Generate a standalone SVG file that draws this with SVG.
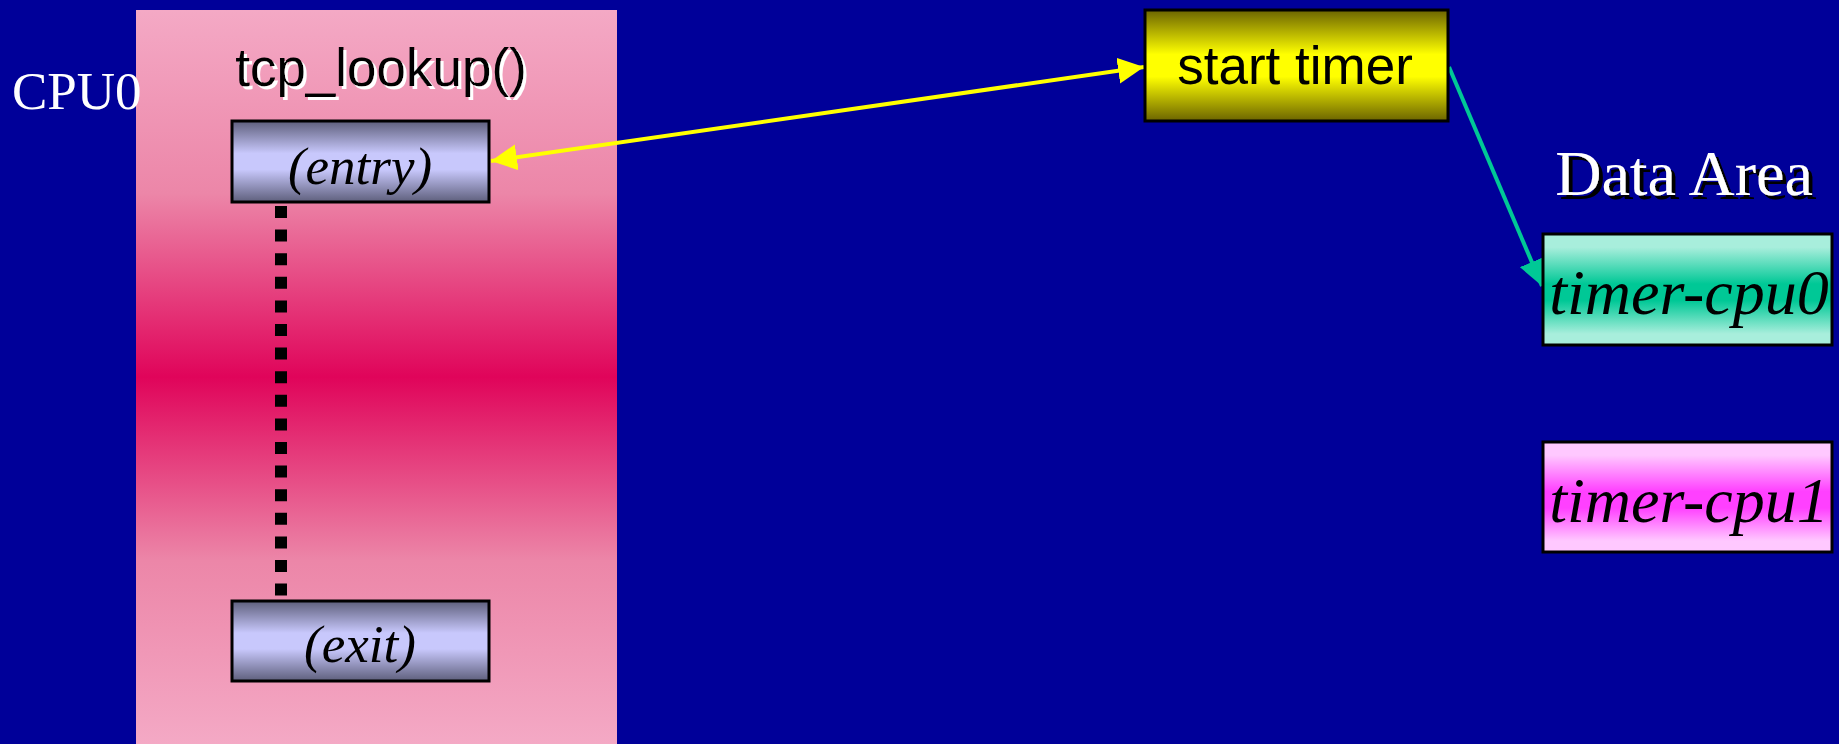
<svg xmlns="http://www.w3.org/2000/svg" width="1839" height="744" viewBox="0 0 1839 744">
<defs>
<style>
.serif{font-family:"Liberation Serif","Times New Roman",serif}
.sans{font-family:"Liberation Sans",Arial,sans-serif}
.box{stroke:#000;stroke-width:3}
.lbl{font-size:53px;text-anchor:middle}
.it{font-style:italic}
</style>
<filter id="shW" x="-5%" y="-20%" width="115%" height="150%">
<feDropShadow dx="3" dy="3" stdDeviation="0" flood-color="#FFFFFF" flood-opacity="1"/>
</filter>
<filter id="shK" x="-5%" y="-20%" width="115%" height="150%">
<feDropShadow dx="4" dy="4" stdDeviation="0" flood-color="#000000" flood-opacity="1"/>
</filter>
<linearGradient id="gPanel" x1="0" y1="0" x2="0" y2="1">
<stop offset="0" stop-color="#F4A9C5"/>
<stop offset="0.25" stop-color="#EC86A8"/>
<stop offset="0.5" stop-color="#E0045A"/>
<stop offset="0.75" stop-color="#EC86A8"/>
<stop offset="1" stop-color="#F4A9C5"/>
</linearGradient>
<linearGradient id="gGray" x1="0" y1="0" x2="0" y2="1">
<stop offset="0" stop-color="#5E5F7C"/>
<stop offset="0.4" stop-color="#C8C8FC"/>
<stop offset="0.6" stop-color="#C8C8FC"/>
<stop offset="1" stop-color="#5E5F7C"/>
</linearGradient>
<linearGradient id="gYellow" x1="0" y1="0" x2="0" y2="1">
<stop offset="0" stop-color="#6B6400"/>
<stop offset="0.4" stop-color="#FFFF00"/>
<stop offset="0.6" stop-color="#FFFF00"/>
<stop offset="1" stop-color="#6B6400"/>
</linearGradient>
<linearGradient id="gTeal" x1="0" y1="0" x2="0" y2="1">
<stop offset="0" stop-color="#A8EEDC"/>
<stop offset="0.12" stop-color="#A8EEDC"/>
<stop offset="0.45" stop-color="#00C896"/>
<stop offset="0.6" stop-color="#00C896"/>
<stop offset="0.9" stop-color="#A8EEDC"/>
<stop offset="1" stop-color="#A8EEDC"/>
</linearGradient>
<linearGradient id="gMag" x1="0" y1="0" x2="0" y2="1">
<stop offset="0" stop-color="#FFC8FF"/>
<stop offset="0.12" stop-color="#FFC8FF"/>
<stop offset="0.45" stop-color="#FF40FF"/>
<stop offset="0.6" stop-color="#FF40FF"/>
<stop offset="0.9" stop-color="#FFC8FF"/>
<stop offset="1" stop-color="#FFC8FF"/>
</linearGradient>
<marker id="arrY" viewBox="0 0 26 26" refX="26" refY="13" markerWidth="26" markerHeight="26" markerUnits="userSpaceOnUse" orient="auto-start-reverse">
<path d="M0,0 L26,13 L0,26 Z" fill="#FFFF00"/>
</marker>
<marker id="arrT" viewBox="0 0 26 26" refX="26" refY="13" markerWidth="26" markerHeight="26" markerUnits="userSpaceOnUse" orient="auto">
<path d="M0,0 L26,13 L0,26 Z" fill="#00C896"/>
</marker>
</defs>
<rect x="0" y="0" width="1839" height="744" fill="#000099"/>
<g id="panel">
<rect x="136" y="10" width="481" height="734" fill="url(#gPanel)"/>
<text x="381" y="86" class="sans lbl" fill="#000000" filter="url(#shW)">tcp_lookup()</text>
</g>
<g id="cpu0">
<text x="12" y="109" class="serif" font-size="53" fill="#FFFFFF">CPU0</text>
</g>
<g id="connectors">
<line x1="281" y1="206" x2="281" y2="598" stroke="#000" stroke-width="12" stroke-dasharray="12 11.6"/>
<line x1="491" y1="161" x2="1144" y2="67" stroke="#FFFF00" stroke-width="4" marker-start="url(#arrY)" marker-end="url(#arrY)"/>
<line x1="1449" y1="67" x2="1542" y2="286" stroke="#00C896" stroke-width="4" marker-end="url(#arrT)"/>
</g>
<g id="entry">
<rect x="232" y="121" width="257" height="81" class="box" fill="url(#gGray)"/>
<text x="360" y="184" class="serif lbl it">(entry)</text>
</g>
<g id="exit">
<rect x="232" y="601" width="257" height="80" class="box" fill="url(#gGray)"/>
<text x="360" y="662" class="serif lbl it">(exit)</text>
</g>
<g id="start-timer">
<rect x="1145" y="10" width="303" height="111" class="box" fill="url(#gYellow)"/>
<text x="1295" y="84" class="sans lbl">start timer</text>
</g>
<g id="data-area">
<text x="1684" y="195" class="serif" font-size="64" text-anchor="middle" fill="#FFFFFF" filter="url(#shK)">Data Area</text>
</g>
<g id="timer-cpu0">
<rect x="1543" y="234" width="289" height="111" class="box" fill="url(#gTeal)"/>
<text x="1689" y="314" class="serif it" font-size="64" text-anchor="middle">timer-cpu0</text>
</g>
<g id="timer-cpu1">
<rect x="1543" y="442" width="289" height="110" class="box" fill="url(#gMag)"/>
<text x="1689" y="522" class="serif it" font-size="64" text-anchor="middle">timer-cpu1</text>
</g>
</svg>
